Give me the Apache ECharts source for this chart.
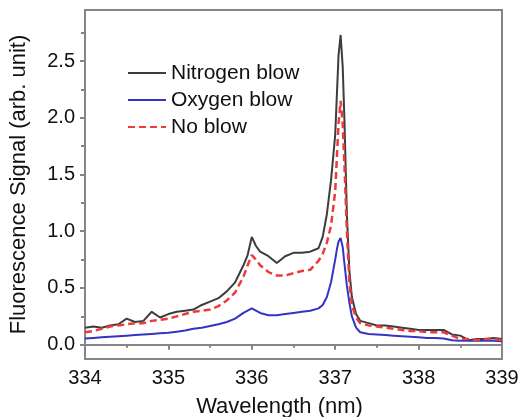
<!DOCTYPE html>
<html>
<head>
<meta charset="utf-8">
<script src="https://cdn.jsdelivr.net/npm/echarts@6/dist/echarts.min.js"></script>
<style>
html,body{margin:0;padding:0;background:#fff;}
#chart{width:519px;height:417px;}
</style>
</head>
<body>
<div id="chart"></div>
<script>
const wavelength = [334.0,334.1,334.2,334.3,334.4,334.5,334.6,334.7,334.8,334.9,335.0,335.1,335.2,335.3,335.4,335.5,335.6,335.7,335.8,335.9,335.95,336.0,336.05,336.1,336.2,336.3,336.4,336.5,336.6,336.7,336.8,336.85,336.9,336.95,337.0,337.02,337.04,337.065,337.09,337.11,337.14,337.17,337.2,337.25,337.3,337.4,337.5,337.6,337.7,337.8,337.9,338.0,338.1,338.2,338.3,338.4,338.5,338.6,338.7,338.8,338.9,339.0];
const nitrogenBlow = [0.15,0.16,0.15,0.17,0.18,0.23,0.20,0.21,0.29,0.24,0.27,0.29,0.30,0.31,0.35,0.38,0.41,0.47,0.55,0.70,0.79,0.95,0.87,0.82,0.78,0.72,0.78,0.81,0.81,0.82,0.85,0.95,1.15,1.45,1.85,2.20,2.55,2.73,2.45,2.00,1.15,0.65,0.42,0.27,0.21,0.19,0.17,0.17,0.16,0.15,0.14,0.13,0.13,0.13,0.13,0.09,0.08,0.04,0.05,0.05,0.06,0.05];
const oxygenBlow = [0.055,0.06,0.065,0.07,0.075,0.08,0.085,0.09,0.095,0.10,0.105,0.115,0.125,0.14,0.15,0.165,0.18,0.20,0.23,0.28,0.30,0.32,0.30,0.28,0.26,0.26,0.27,0.28,0.29,0.30,0.32,0.35,0.42,0.55,0.75,0.84,0.91,0.94,0.86,0.72,0.52,0.37,0.25,0.15,0.11,0.095,0.09,0.085,0.08,0.075,0.07,0.065,0.06,0.06,0.055,0.04,0.035,0.035,0.035,0.035,0.035,0.03];
const noBlow = [0.11,0.12,0.14,0.16,0.17,0.18,0.19,0.19,0.21,0.22,0.23,0.25,0.27,0.29,0.30,0.31,0.34,0.39,0.46,0.60,0.70,0.79,0.75,0.70,0.64,0.61,0.61,0.63,0.65,0.66,0.74,0.80,0.90,1.05,1.35,1.65,1.95,2.15,1.95,1.60,1.00,0.55,0.35,0.24,0.19,0.17,0.16,0.15,0.14,0.13,0.12,0.12,0.11,0.11,0.11,0.08,0.05,0.05,0.04,0.05,0.05,0.04];
const seriesNames = ['Nitrogen blow','Oxygen blow','No blow'];
const yMajorTicks = [0,0.5,1.0,1.5,2.0,2.5];
const yMinorTicks = [0.25,0.75,1.25,1.75,2.25,2.75];

const pairs = arr => wavelength.map((w,i)=>[w,arr[i]]);
const axisGray = '#858585';
const chart = echarts.init(document.getElementById('chart'), null, {renderer:'canvas'});
const font = 'Liberation Sans, Arial, sans-serif';
chart.setOption({
  animation:false,
  backgroundColor:'#fff',
  grid:{left:85,right:17,top:10,bottom:58,containLabel:false,outerBoundsMode:'none',show:true,borderColor:axisGray,borderWidth:2,backgroundColor:'transparent'},
  legend:{
    orient:'vertical',left:122,top:57,itemWidth:38,itemHeight:14,itemGap:5,
    data:seriesNames,
    itemStyle:{opacity:0},
    textStyle:{fontFamily:font,fontSize:21,color:'#111',lineHeight:22}
  },
  xAxis:{
    type:'value',min:334,max:339,interval:1,
    name:'Wavelength (nm)',nameLocation:'middle',nameGap:37,
    nameTextStyle:{fontFamily:font,fontSize:22,color:'#111',padding:[0,28,0,0]},
    axisLine:{show:true,lineStyle:{color:axisGray,width:2}},
    axisTick:{show:true,length:5,lineStyle:{color:axisGray,width:2}},
    minorTick:{show:true,splitNumber:2,length:3,lineStyle:{color:axisGray,width:2}},
    axisLabel:{fontFamily:font,fontSize:20,color:'#111',margin:9},
    splitLine:{show:false}
  },
  yAxis:[{
    type:'value',min:-0.126,max:2.95,
    name:'Fluorescence Signal (arb. unit)',nameLocation:'middle',nameGap:55,
    nameTextStyle:{fontFamily:font,fontSize:22,color:'#111'},
    axisLine:{show:true,lineStyle:{color:axisGray,width:2}},
    axisTick:{show:true,length:5,customValues:yMajorTicks,lineStyle:{color:axisGray,width:2}},
    axisLabel:{fontFamily:font,fontSize:20,color:'#111',margin:10,customValues:yMajorTicks,formatter:v=>v.toFixed(1)},
    splitLine:{show:false}
  },{
    type:'value',min:-0.126,max:2.95,position:'left',offset:0,
    axisLine:{show:true,lineStyle:{color:axisGray,width:2}},
    axisTick:{show:true,length:4,customValues:yMinorTicks,lineStyle:{color:axisGray,width:2}},
    axisLabel:{show:true,customValues:yMinorTicks,formatter:()=>'',color:'rgba(0,0,0,0)'},
    splitLine:{show:false}
  }],
  series:[
    {name:seriesNames[0],type:'line',symbol:'none',data:pairs(nitrogenBlow),lineStyle:{color:'#3d3d3d',width:2},itemStyle:{color:'#3d3d3d'}},
    {name:seriesNames[1],type:'line',symbol:'none',data:pairs(oxygenBlow),lineStyle:{color:'#3434c4',width:2},itemStyle:{color:'#3434c4'}},
    {name:seriesNames[2],type:'line',symbol:'none',data:pairs(noBlow),lineStyle:{color:'#ec3b3b',width:2.5,type:[7,4]},itemStyle:{color:'#ec3b3b'}}
  ]
});
</script>
</body>
</html>
